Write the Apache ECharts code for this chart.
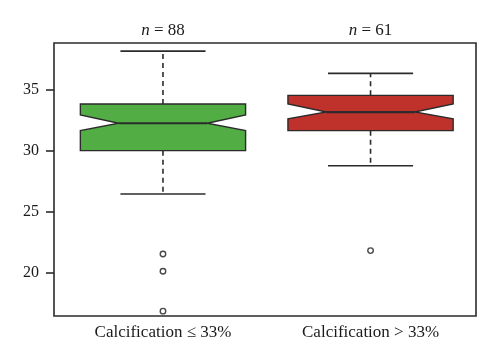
<!DOCTYPE html>
<html>
<head>
<meta charset="utf-8">
<script src="https://cdn.jsdelivr.net/npm/echarts@6/dist/echarts.min.js"></script>
<style>html,body{margin:0;padding:0;background:#fff;}#c{width:500px;height:361px;}</style>
</head>
<body>
<div id="c"></div>
<script>
const categories = ['Calcification \u2264 33%', 'Calcification > 33%'];
const counts = [88, 61];
const whiskerLow = [26.44, 28.76];
const q1 = [30.0, 31.64];
const notchLow = [31.64, 32.62];
const median = [32.25, 33.17];
const notchHigh = [32.93, 33.83];
const q3 = [33.83, 34.54];
const whiskerHigh = [38.18, 36.35];
const outliers = [[21.51, 20.1, 16.82], [21.79]];
const yTicks = [20, 25, 30, 35];
const fills = ['#52ae44', '#bf322c'];

const FONT = 'Liberation Serif';
const boxData = categories.map((c, i) => [i + 1, whiskerLow[i], q1[i], notchLow[i], median[i], notchHigh[i], q3[i], whiskerHigh[i]]);
const outlierData = [];
outliers.forEach((arr, i) => arr.forEach(v => outlierData.push([i + 1, v])));

const chart = echarts.init(document.getElementById('c'), null, {renderer: 'canvas'});
chart.setOption({
  animation: false,
  backgroundColor: '#fff',
  grid: {left: 54, right: 24, top: 43, bottom: 45, show: true, borderColor: '#2b2b2b', borderWidth: 1.6, backgroundColor: 'transparent'},
  xAxis: [{
    type: 'value', position: 'bottom', min: 0.475, max: 2.508,
    axisLine: {show: false}, axisTick: {show: false}, splitLine: {show: false},
    axisLabel: {customValues: [1, 2], formatter: v => categories[Math.round(v) - 1], fontFamily: FONT, fontSize: 17, color: '#1a1a1a', margin: 8}
  }, {
    type: 'value', position: 'top', min: 0.475, max: 2.508,
    axisLine: {show: false}, axisTick: {show: false}, splitLine: {show: false},
    axisLabel: {customValues: [1, 2], formatter: v => '{i|n} = ' + counts[Math.round(v) - 1], fontFamily: FONT, fontSize: 17, color: '#1a1a1a', margin: 4,
      rich: {i: {fontStyle: 'italic', fontFamily: FONT, fontSize: 17, color: '#1a1a1a'}}}
  }],
  yAxis: {
    type: 'value', min: 16.42, max: 38.84,
    axisLine: {show: false}, splitLine: {show: false},
    axisTick: {show: true, customValues: yTicks, length: 8, lineStyle: {color: '#2b2b2b', width: 1.6}},
    axisLabel: {customValues: yTicks, fontFamily: FONT, fontSize: 16, color: '#1a1a1a', margin: 15}
  },
  series: [{
    type: 'custom',
    xAxisIndex: 0,
    data: boxData,
    renderItem: function (params, api) {
      const idx = params.dataIndex;
      const x = api.value(0);
      const hw = api.size([0.398, 0])[0];
      const cw = api.size([0.205, 0])[0];
      const nw = hw * 0.535;
      const c = api.coord([x, 0])[0];
      const y = k => api.coord([x, api.value(k)])[1];
      const yLo = y(1), yQ1 = y(2), yNL = y(3), yMed = y(4), yNH = y(5), yQ3 = y(6), yHi = y(7);
      const stroke = '#2b2b2b';
      return {
        type: 'group',
        children: [
          {type: 'line', shape: {x1: c, y1: yQ3, x2: c, y2: yHi}, style: {stroke: stroke, lineWidth: 1.6, lineDash: [5, 4]}},
          {type: 'line', shape: {x1: c, y1: yQ1, x2: c, y2: yLo}, style: {stroke: stroke, lineWidth: 1.6, lineDash: [5, 4]}},
          {type: 'line', shape: {x1: c - cw, y1: yHi, x2: c + cw, y2: yHi}, style: {stroke: stroke, lineWidth: 1.7}},
          {type: 'line', shape: {x1: c - cw, y1: yLo, x2: c + cw, y2: yLo}, style: {stroke: stroke, lineWidth: 1.7}},
          {type: 'polygon', shape: {points: [
            [c - hw, yQ3], [c + hw, yQ3], [c + hw, yNH], [c + nw, yMed], [c + hw, yNL], [c + hw, yQ1],
            [c - hw, yQ1], [c - hw, yNL], [c - nw, yMed], [c - hw, yNH]
          ]}, style: {fill: fills[idx], stroke: stroke, lineWidth: 1.4}},
          {type: 'line', shape: {x1: c - nw, y1: yMed, x2: c + nw, y2: yMed}, style: {stroke: stroke, lineWidth: 2.2}}
        ]
      };
    }
  }, {
    type: 'scatter',
    xAxisIndex: 0,
    data: outlierData,
    symbol: 'circle',
    symbolSize: 5.5,
    itemStyle: {color: '#fff', borderColor: '#1a1a1a', borderWidth: 1.4}
  }]
});
</script>
</body>
</html>
